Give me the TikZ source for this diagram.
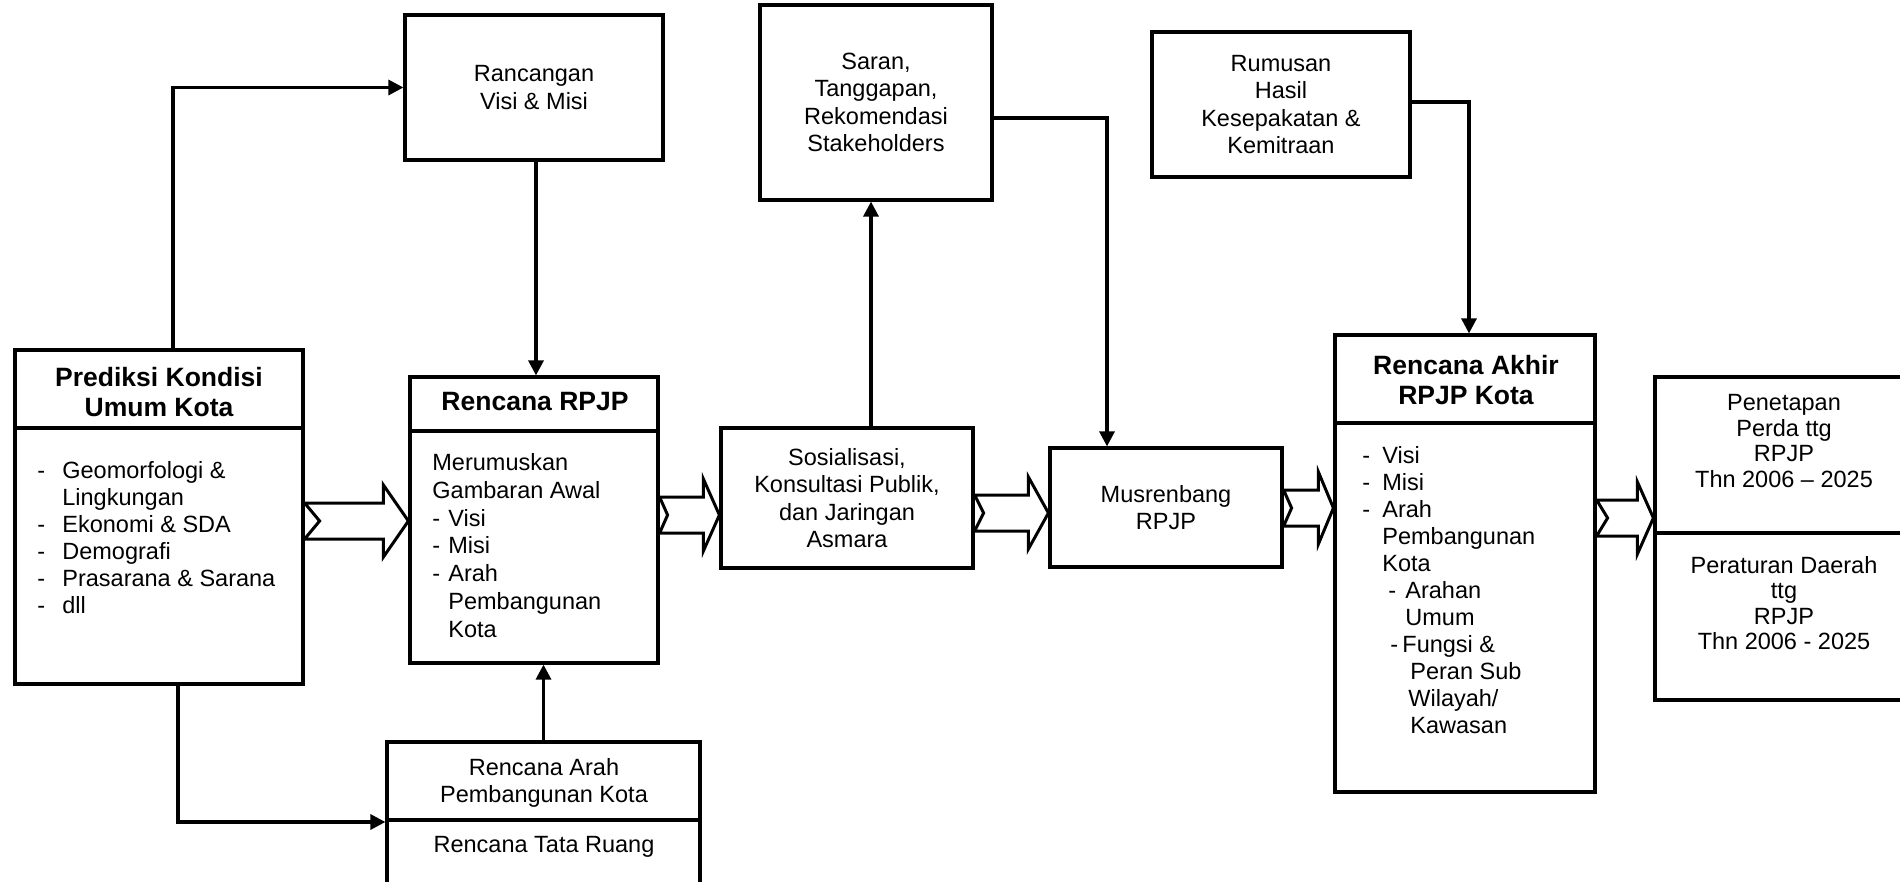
\documentclass[tikz,border=0pt]{standalone}
\usepackage{fontspec}
\setmainfont{Liberation Sans}
\usetikzlibrary{arrows.meta,calc}
\newcommand\dli[2]{\makebox[#1][l]{-}#2}
\newcommand\cli[2]{\hspace*{#1}#2}
\newcommand\blockarr[5]{% from, to, center y (px), head length, notch depth
  \coordinate (ba) at (0,#3);
  \draw[blk] ($(#1.east |- ba)+(0,-18)$) -- ($(#2.west |- ba)+(-#4,-18)$)
    -- ($(#2.west |- ba)+(-#4,-36)$) -- (#2.west |- ba)
    -- ($(#2.west |- ba)+(-#4,36)$) -- ($(#2.west |- ba)+(-#4,18)$)
    -- ($(#1.east |- ba)+(0,18)$) -- ($(#1.east |- ba)+(#5,0)$) -- cycle;}
\tikzset{
  box/.style={draw, line width=1.6pt, inner sep=0pt, align=center,
    font=\fontsize{11.75}{13.75}\selectfont},
  hdr/.style={inner sep=0pt, align=center, font=\bfseries\fontsize{13.25}{15}\selectfont},
  body/.style={inner sep=0pt, align=left, anchor=north west},
  ctext/.style={inner sep=0pt, align=center, anchor=north,
    font=\fontsize{11.75}{12.75}\selectfont},
  conn/.style={line width=1.6pt, -{Triangle[length=7.5pt,width=7.5pt]}},
  blk/.style={draw, fill=white, line width=1.5pt, line join=miter},
  divl/.style={line width=1.6pt}
}
\begin{document}
\begin{tikzpicture}[x=0.5pt,y=-0.5pt]
\useasboundingbox (0,0) rectangle (1900,882);

% boxes
\node[box, minimum width=144pt, minimum height=167pt] (b1) at (159,517) {};
\node[box, minimum width=129pt, minimum height=72.5pt] (rvm) at (534,87.5) {Rancangan\\Visi \& Misi};
\node[box, minimum width=124pt, minimum height=143pt] (rpjp) at (534,520) {};
\node[box, minimum width=156.5pt, minimum height=80pt] (rap) at (543.5,822) {};
\node[box, minimum width=116pt, minimum height=97.5pt] (srn) at (876,102.5) {Saran,\\Tanggapan,\\Rekomendasi\\Stakeholders};
\node[box, minimum width=126pt, minimum height=70pt] (sos) at (847,498) {Sosialisasi,\\Konsultasi Publik,\\dan Jaringan\\Asmara};
\node[box, minimum width=116pt, minimum height=59.5pt] (mus) at (1166,507.5) {Musrenbang\\RPJP};
\node[box, minimum width=129pt, minimum height=72.5pt] (rum) at (1281,104.5) {Rumusan\\Hasil\\Kesepakatan \&\\Kemitraan};
\node[box, minimum width=130pt, minimum height=228.5pt] (rak) at (1465,563.5) {};
\node[box, minimum width=130pt, minimum height=161.5pt] (pen) at (1785,538.5) {};

% dividers
\draw[divl] (b1.west |- 0,428) -- (b1.east |- 0,428);
\draw[divl] (rpjp.west |- 0,431) -- (rpjp.east |- 0,431);
\draw[divl] (rap.west |- 0,820) -- (rap.east |- 0,820);
\draw[divl] (rak.west |- 0,423) -- (rak.east |- 0,423);
\draw[divl] (pen.west |- 0,533) -- (pen.east |- 0,533);

% headers
\node[hdr] (b1h) at (159,392) {Prediksi Kondisi\\Umum Kota};
\node[hdr] (rpjph) at (535,402) {Rencana RPJP};
\node[hdr] (rakh) at (1466,380) {Rencana Akhir\\RPJP Kota};

% bodies
\node[body, font=\fontsize{11.75}{13.5}\selectfont] (b1t) at (37,461)
  {\dli{12.5pt}{Geomorfologi \&}\\\cli{12.5pt}{Lingkungan}\\\dli{12.5pt}{Ekonomi \& SDA}\\\dli{12.5pt}{Demografi}\\\dli{12.5pt}{Prasarana \& Sarana}\\\dli{12.5pt}{dll}};
\node[body, font=\fontsize{11.75}{13.9}\selectfont] (rpjpt) at (432,453)
  {Merumuskan\\Gambaran Awal\\\dli{8pt}{Visi}\\\dli{8pt}{Misi}\\\dli{8pt}{Arah}\\\cli{8pt}{Pembangunan}\\\cli{8pt}{Kota}};
\node[body, font=\fontsize{11.75}{13.5}\selectfont] (rakt) at (1362,446)
  {\dli{10pt}{Visi}\\\dli{10pt}{Misi}\\\dli{10pt}{Arah}\\\cli{10pt}{Pembangunan}\\\cli{10pt}{Kota}\\\cli{13pt}{\dli{8.5pt}{Arahan}}\\\cli{21.5pt}{Umum}\\\cli{14pt}{\dli{6pt}{Fungsi \&}}\\\cli{24pt}{Peran Sub}\\\cli{23pt}{Wilayah/}\\\cli{24pt}{Kawasan}};
\node[box, draw=none, font=\fontsize{11.75}{13.75}\selectfont] (rapt1) at (544,783) {Rencana Arah\\Pembangunan Kota};
\node[box, draw=none] (rapt2) at (544,847) {Rencana Tata Ruang};
\node[ctext] (pent1) at (1784,394) {Penetapan\\Perda ttg\\RPJP\\Thn 2006 – 2025};
\node[ctext] (pent2) at (1784,556) {Peraturan Daerah\\ttg\\RPJP\\Thn 2006 - 2025};

% connectors
\draw[conn] ([xshift=7pt]b1.north) |- (rvm.west);
\draw[conn] ([xshift=1pt]rvm.south) -- ([xshift=1pt]rpjp.north);
\draw[conn] ([xshift=9.5pt]b1.south) |- (rap.west);
\draw[conn] (rap.north) -- (rap.north |- rpjp.south);
\draw[conn] ([xshift=12pt]sos.north) -- ([xshift=-2.5pt]srn.south);
\draw[conn] ([yshift=-7.75pt]srn.east) -| ([xshift=-29.5pt]mus.north);
\draw[conn] ([yshift=1.25pt]rum.east) -| ([xshift=2pt]rak.north);

% block arrows
\blockarr{b1}{rpjp}{521}{25}{15}
\blockarr{rpjp}{sos}{515}{16}{8}
\blockarr{sos}{mus}{513}{20}{9}
\blockarr{mus}{rak}{508}{15}{8}
\blockarr{rak}{pen}{518}{16}{11}
\end{tikzpicture}
\end{document}
